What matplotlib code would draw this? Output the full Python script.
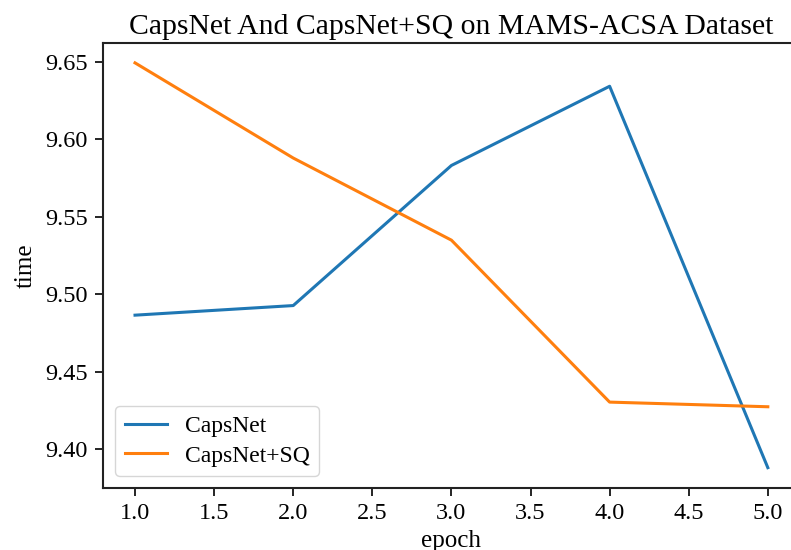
import matplotlib
matplotlib.use("Agg")
import matplotlib.pyplot as plt

epochs = [1, 2, 3, 4, 5]
capsnet = [9.4866, 9.4928, 9.5832, 9.6343, 9.3882]
capsnet_sq = [9.6494, 9.5880, 9.5350, 9.4305, 9.4275]
series_labels = ["CapsNet", "CapsNet+SQ"]
title = "CapsNet And CapsNet+SQ on MAMS-ACSA Dataset"
yticks = [9.40, 9.45, 9.50, 9.55, 9.60, 9.65]
ytick_labels = ["9.40", "9.45", "9.50", "9.55", "9.60", "9.65"]

plt.rcParams['font.family'] = ['Liberation Serif', 'DejaVu Serif']

fig = plt.figure(figsize=(7.91, 5.5), dpi=100)
ax = fig.add_axes([0.1307, 0.1129, 0.880, 0.8096])
ax.plot(epochs, capsnet, color='#1f77b4', lw=2.2, label=series_labels[0])
ax.plot(epochs, capsnet_sq, color='#ff7f0e', lw=2.2, label=series_labels[1])
ax.set_title(title, fontsize=21.4, pad=6)
ax.set_xlabel("epoch", fontsize=18, labelpad=4)
ax.set_ylabel("time", fontsize=18, labelpad=6)
ax.set_yticks(yticks)
ax.set_yticklabels(ytick_labels)
ax.tick_params(labelsize=17.5, length=6, width=1.2, pad=5)
for s in ax.spines.values():
    s.set_linewidth(1.5)
    s.set_color('#222222')
ax.legend(loc='lower left', fontsize=17, handlelength=1.8, labelspacing=0.35,
          handletextpad=0.75, borderpad=0.4)
fig.savefig("out.png", dpi=100)
